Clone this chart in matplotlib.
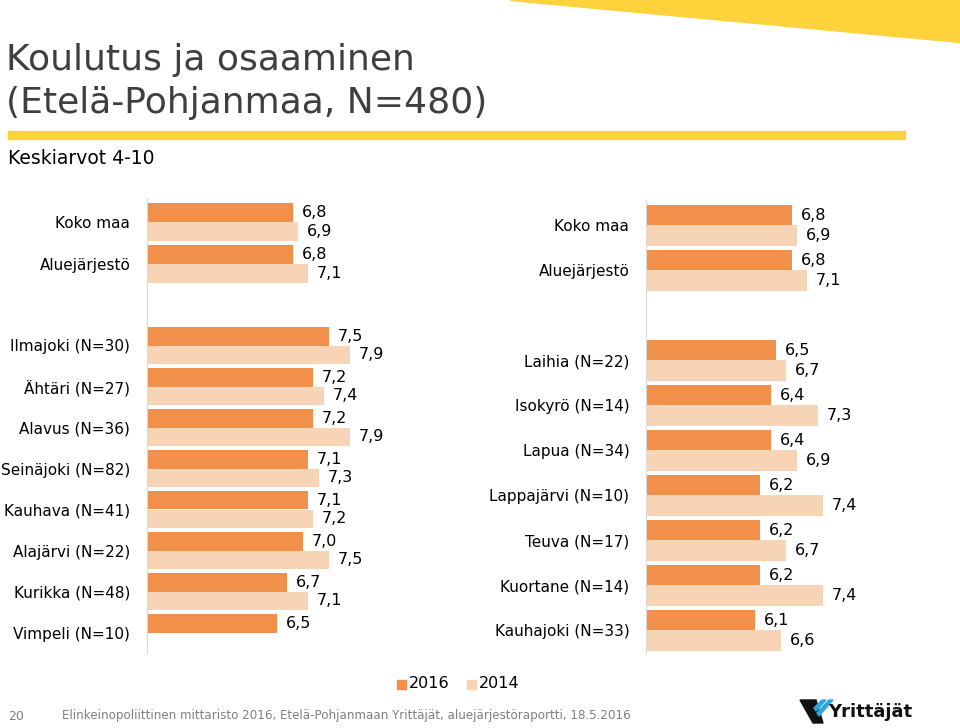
import matplotlib.pyplot as plt
from matplotlib.patches import Polygon, Rectangle

plt.rcParams['font.family'] = ['DejaVu Sans']

# colours
c2016 = '#F0904B'
c2014 = '#F8D4B6'
yellow = '#FDD23B'

# data
top_cats = ['Koko maa', 'Aluejärjestö']
top_2016 = [6.8, 6.8]
top_2014 = [6.9, 7.1]

left_cats = ['Ilmajoki (N=30)', 'Ähtäri (N=27)', 'Alavus (N=36)', 'Seinäjoki (N=82)',
             'Kauhava (N=41)', 'Alajärvi (N=22)', 'Kurikka (N=48)', 'Vimpeli (N=10)']
left_2016 = [7.5, 7.2, 7.2, 7.1, 7.1, 7.0, 6.7, 6.5]
left_2014 = [7.9, 7.4, 7.9, 7.3, 7.2, 7.5, 7.1, None]

right_cats = ['Laihia (N=22)', 'Isokyrö (N=14)', 'Lapua (N=34)', 'Lappajärvi (N=10)',
              'Teuva (N=17)', 'Kuortane (N=14)', 'Kauhajoki (N=33)']
right_2016 = [6.5, 6.4, 6.4, 6.2, 6.2, 6.2, 6.1]
right_2014 = [6.7, 7.3, 6.9, 7.4, 6.7, 7.4, 6.6]

W, H = 960, 728
fig = plt.figure(figsize=(W / 100, H / 100), dpi=100)


def fx(x):
    return x / W


def fy(y):
    return 1 - y / H


def panel(x0, y0, y1, first_top, pitch, cats, v16, v14):
    # axes placed in pixel coords, 52 px per unit, x from 4 to 10
    ax = fig.add_axes([fx(x0), fy(y1), 312 / W, (y1 - y0) / H])
    n = len(cats)
    pos = list(range(n))
    for i in pos:
        a = v16[i]
        b = v14[i]
        if a is not None:
            ax.barh(i - 0.225, a - 4, left=4, height=0.45, color=c2016)
            ax.text(a + 0.17, i - 0.225, f'{a:.1f}'.replace('.', ','),
                    va='center', ha='left', fontsize=11.5, color='black')
        if b is not None:
            ax.barh(i + 0.225, b - 4, left=4, height=0.45, color=c2014)
            ax.text(b + 0.17, i + 0.225, f'{b:.1f}'.replace('.', ','),
                    va='center', ha='left', fontsize=11.5, color='black')
    ax.set_xlim(4, 10)
    ytop = (y0 - first_top) / pitch - 0.5
    ybot = (y1 - first_top) / pitch - 0.5
    ax.set_ylim(ybot, ytop)
    ax.set_yticks(pos)
    ax.set_yticklabels(cats, fontsize=11, color='black')
    ax.tick_params(axis='y', length=0, pad=12)
    ax.set_xticks([])
    for s in ['top', 'right', 'bottom']:
        ax.spines[s].set_visible(False)
    ax.spines['left'].set_color('#D9D9D9')
    ax.patch.set_alpha(0)
    return ax


panel(147, 198, 322, 201, 42, top_cats, top_2016, top_2014)
panel(646, 200, 322, 202.75, 45, top_cats, top_2016, top_2014)
panel(147, 322, 653, 325, 41, left_cats, left_2016, left_2014)
panel(646, 322, 653, 337.75, 45, right_cats, right_2016, right_2014)

# decorations: yellow wedge and rule
fig.patches.append(Polygon([(fx(510), fy(0)), (fx(960), fy(0)), (fx(960), fy(42))],
                           closed=True, transform=fig.transFigure, color=yellow, zorder=0))
fig.patches.append(Rectangle((fx(8), fy(139)), fx(897), 8 / H,
                             transform=fig.transFigure, color=yellow, zorder=0))

fig.text(fx(6), fy(60), 'Koulutus ja osaaminen', fontsize=26, color='#3F3F3F', va='center')
fig.text(fx(6), fy(103), '(Etelä-Pohjanmaa, N=480)', fontsize=26, color='#3F3F3F', va='center')
fig.text(fx(8), fy(158), 'Keskiarvot 4-10', fontsize=13.5, color='black', va='center')

# legend
fig.patches.append(Rectangle((fx(397), fy(689)), 9 / W, 9 / H,
                             transform=fig.transFigure, color=c2016))
fig.text(fx(409), fy(684), '2016', fontsize=11.5, va='center')
fig.patches.append(Rectangle((fx(467), fy(689)), 9 / W, 9 / H,
                             transform=fig.transFigure, color=c2014))
fig.text(fx(479), fy(684), '2014', fontsize=11.5, va='center')

# footer
fig.text(fx(8), fy(716), '20', fontsize=9, color='#7F7F7F', va='center')
fig.text(fx(62), fy(716),
         'Elinkeinopoliittinen mittaristo 2016, Etelä-Pohjanmaan Yrittäjät, aluejärjestöraportti, 18.5.2016',
         fontsize=8.6, color='#7F7F7F', va='center')

# logo
fig.patches.append(Polygon([(fx(800), fy(700)), (fx(816), fy(700)), (fx(823), fy(723)), (fx(813), fy(723))],
                           closed=True, transform=fig.transFigure, color='#111111'))
fig.patches.append(Polygon([(fx(814), fy(708)), (fx(822), fy(700)), (fx(826), fy(700)), (fx(816), fy(711))],
                           closed=True, transform=fig.transFigure, color='#2CA6DE'))
fig.patches.append(Polygon([(fx(817), fy(713)), (fx(829), fy(700)), (fx(833), fy(700)), (fx(819), fy(716))],
                           closed=True, transform=fig.transFigure, color='#2CA6DE'))
fig.text(fx(828), fy(712), 'Yrittäjät', fontsize=13, fontweight='bold', color='#111111', va='center')

fig.savefig('out.png', dpi=100)
